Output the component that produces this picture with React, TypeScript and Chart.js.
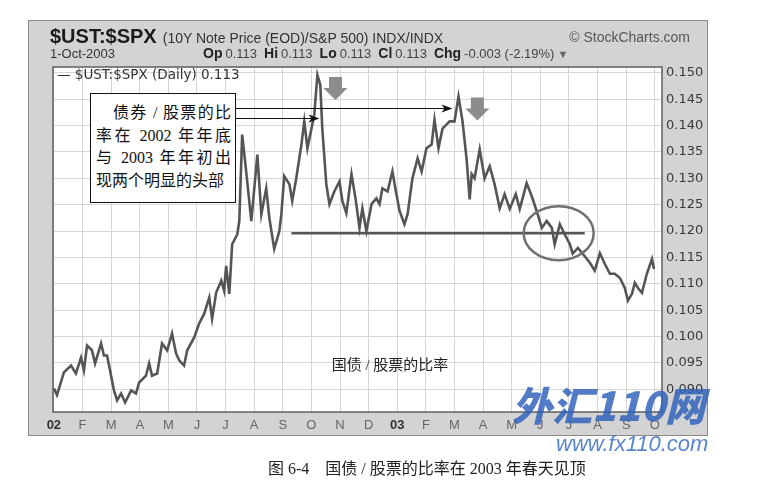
import React, { useEffect, useRef } from "react";
import Chart from "chart.js/auto";

// ---- data ----
const monthLabels = ["02", "F", "M", "A", "M", "J", "J", "A", "S", "O", "N", "D", "03", "F", "M", "A", "M", "J", "J", "A", "S", "O"];

// position in months since 1-Jan-2002
const monthPos = [
  0.00, 0.11, 0.35, 0.60, 0.77, 0.95, 1.05, 1.16, 1.33, 1.44,
  1.65, 1.75, 1.86, 2.10, 2.21, 2.35, 2.49, 2.70, 2.87, 2.98,
  3.22, 3.33, 3.43, 3.61, 3.78, 3.96, 4.13, 4.27, 4.38, 4.55,
  4.66, 4.90, 5.08, 5.25, 5.43, 5.53, 5.67, 5.85, 5.95, 6.02,
  6.13, 6.23, 6.41, 6.48, 6.58, 6.72, 6.90, 7.11, 7.25, 7.42,
  7.53, 7.70, 7.88, 7.95, 8.05, 8.23, 8.33, 8.47, 8.65, 8.75,
  8.86, 9.00, 9.10, 9.21, 9.31, 9.38, 9.52, 9.63, 9.80, 9.98,
  10.08, 10.22, 10.40, 10.54, 10.68, 10.78, 10.92, 11.10, 11.27, 11.38,
  11.48, 11.66, 11.83, 11.97, 12.08, 12.25, 12.36, 12.53, 12.71, 12.85,
  13.02, 13.20, 13.30, 13.44, 13.58, 13.83, 14.00, 14.14, 14.28, 14.42,
  14.53, 14.60, 14.70, 14.88, 15.05, 15.23, 15.40, 15.58, 15.75, 15.93,
  16.14, 16.28, 16.52, 16.70, 16.87, 17.05, 17.22, 17.40, 17.50, 17.68,
  17.85, 18.03, 18.13, 18.31, 18.48, 18.73, 18.90, 19.08, 19.25, 19.43,
  19.60, 19.78, 19.95, 20.06, 20.20, 20.30, 20.41, 20.55, 20.72, 20.90,
  20.97,
];

// $UST:$SPX ratio
const ratio = [
  0.0902, 0.0889, 0.0932, 0.0945, 0.0930, 0.0960, 0.0936, 0.0983, 0.0974, 0.0949,
  0.0987, 0.0964, 0.0964, 0.0898, 0.0879, 0.0892, 0.0875, 0.0898, 0.0892, 0.0913,
  0.0926, 0.0949, 0.0926, 0.0930, 0.0987, 0.0974, 0.1006, 0.0968, 0.0955, 0.0945,
  0.0974, 0.0998, 0.1025, 0.1043, 0.1074, 0.1034, 0.1083, 0.1106, 0.1087, 0.1134,
  0.1081, 0.1175, 0.1194, 0.1219, 0.1383, 0.1313, 0.1219, 0.1345, 0.1232, 0.1281,
  0.1225, 0.1166, 0.1200, 0.1232, 0.1304, 0.1289, 0.1257, 0.1300, 0.1364, 0.1408,
  0.1357, 0.1394, 0.1421, 0.1496, 0.1477, 0.1394, 0.1289, 0.1251, 0.1275, 0.1294,
  0.1257, 0.1234, 0.1308, 0.1262, 0.1206, 0.1243, 0.1200, 0.1251, 0.1262, 0.1251,
  0.1281, 0.1275, 0.1313, 0.1270, 0.1238, 0.1213, 0.1232, 0.1300, 0.1338, 0.1313,
  0.1357, 0.1364, 0.1411, 0.1357, 0.1394, 0.1408, 0.1408, 0.1455, 0.1408, 0.1338,
  0.1260, 0.1308, 0.1300, 0.1355, 0.1300, 0.1323, 0.1289, 0.1243, 0.1270, 0.1242,
  0.1270, 0.1242, 0.1291, 0.1266, 0.1238, 0.1206, 0.1219, 0.1206, 0.1175, 0.1213,
  0.1194, 0.1175, 0.1157, 0.1168, 0.1157, 0.1140, 0.1125, 0.1158, 0.1138, 0.1119,
  0.1119, 0.1111, 0.1092, 0.1068, 0.1081, 0.1102, 0.1092, 0.1083, 0.1119, 0.1147,
  0.1128,
];

// support line (value, start month, end month)
const supportLevel = [0.1196];
const supportSpan = [8.3, 18.55];
// circled breakdown (month, value)
const circleCenter = [17.64, 0.1196];
// grey "top" arrows (month, value of arrow top)
const topArrowMonths = [9.84, 14.8];
const topArrowValues = [0.1492, 0.1453];
// call-out arrow tips (month, value)
const calloutMonths = [13.93, 9.28];
const calloutValues = [0.1434, 0.1415];

const yTickMin = 0.0857;
const yTickMax = 0.1511;

// ---- layout (pixels) ----
const W = 760;
const H = 502;
const FRAME = { left: 28, top: 20, right: 708, bottom: 436 };
const PLOT = { left: 53, top: 67, right: 662, bottom: 412 };
const Y_AXIS_W = 46;
const X_AXIS_H = 24;
const BOX = { left: 90, top: 93, width: 146, height: 110 };

const annotPlugin = {
  id: "annot",
  beforeDraw(chart: any) {
    const { ctx, chartArea: a } = chart;
    ctx.save();
    ctx.fillStyle = "#d3d3d3";
    ctx.fillRect(FRAME.left, FRAME.top, FRAME.right - FRAME.left, FRAME.bottom - FRAME.top);
    ctx.strokeStyle = "#8a8a8a";
    ctx.lineWidth = 1;
    ctx.strokeRect(FRAME.left + 0.5, FRAME.top + 0.5, FRAME.right - FRAME.left - 1, FRAME.bottom - FRAME.top - 1);
    ctx.fillStyle = "#ffffff";
    ctx.fillRect(a.left, a.top, a.right - a.left, a.bottom - a.top);
    ctx.restore();
  },
  afterDatasetsDraw(chart: any) {
    const { ctx, chartArea: a } = chart;
    const xs = chart.scales.x;
    const ys = chart.scales.y;
    ctx.save();

    // ellipse around the breakdown
    const cx = xs.getPixelForValue(circleCenter[0]);
    const cy = ys.getPixelForValue(circleCenter[1]);
    ctx.beginPath();
    ctx.ellipse(cx, cy, 35, 27, 0, 0, Math.PI * 2);
    ctx.strokeStyle = "#707070";
    ctx.lineWidth = 2.5;
    ctx.stroke();

    // grey block arrows pointing down
    ctx.fillStyle = "#8c8c8c";
    topArrowMonths.forEach((m, i) => {
      const x = xs.getPixelForValue(m);
      const y = ys.getPixelForValue(topArrowValues[i]);
      ctx.beginPath();
      ctx.moveTo(x - 6.5, y);
      ctx.lineTo(x + 6.5, y);
      ctx.lineTo(x + 6.5, y + 11);
      ctx.lineTo(x + 12, y + 11);
      ctx.lineTo(x, y + 23);
      ctx.lineTo(x - 12, y + 11);
      ctx.lineTo(x - 6.5, y + 11);
      ctx.closePath();
      ctx.fill();
    });

    // call-out arrows from the text box
    ctx.strokeStyle = "#111";
    ctx.fillStyle = "#111";
    ctx.lineWidth = 1.1;
    calloutMonths.forEach((m, i) => {
      const tx = xs.getPixelForValue(m);
      const ty = Math.round(ys.getPixelForValue(calloutValues[i])) + 0.5;
      ctx.beginPath();
      ctx.moveTo(BOX.left + BOX.width, ty);
      ctx.lineTo(tx - 2, ty);
      ctx.stroke();
      ctx.beginPath();
      ctx.moveTo(tx, ty);
      ctx.lineTo(tx - 11, ty - 4);
      ctx.lineTo(tx - 8, ty);
      ctx.lineTo(tx - 11, ty + 4);
      ctx.closePath();
      ctx.fill();
    });

    // plot border
    ctx.strokeStyle = "#5f5f5f";
    ctx.lineWidth = 1.5;
    ctx.strokeRect(a.left, a.top, a.right - a.left, a.bottom - a.top);
    ctx.restore();
  },
};

export default function App() {
  const canvasRef = useRef<HTMLCanvasElement | null>(null);

  useEffect(() => {
    if (!canvasRef.current) return;
    const chart = new Chart(canvasRef.current, {
      type: "line",
      data: {
        datasets: [
          {
            label: "$UST:$SPX",
            data: monthPos.map((x, i) => ({ x, y: ratio[i] })),
            borderColor: "#555555",
            borderWidth: 2.6,
            pointRadius: 0,
            tension: 0,
            fill: false,
          },
          {
            label: "support",
            data: supportSpan.map((x) => ({ x, y: supportLevel[0] })),
            borderColor: "#555555",
            borderWidth: 2.5,
            pointRadius: 0,
            fill: false,
          },
        ],
      },
      options: {
        animation: false,
        responsive: false,
        devicePixelRatio: 1,
        events: [],
        layout: {
          padding: {
            left: PLOT.left,
            top: PLOT.top,
            right: W - PLOT.right - Y_AXIS_W,
            bottom: H - PLOT.bottom - X_AXIS_H,
          },
        },
        plugins: { legend: { display: false }, tooltip: { enabled: false } },
        scales: {
          x: {
            type: "linear",
            min: -0.03,
            max: 21.25,
            afterFit: (s: any) => { s.height = X_AXIS_H; },
            grid: { color: "#d6d6d6", lineWidth: 1, drawTicks: false },
            border: { display: false },
            ticks: {
              stepSize: 1,
              includeBounds: false,
              autoSkip: false,
              maxRotation: 0,
              minRotation: 0,
              padding: 6,
              maxTicksLimit: 100,
              callback: (v: any) => monthLabels[Math.round(Number(v))] ?? "",
              color: (c: any) => (c.tick && Math.round(c.tick.value) % 12 === 0 ? "#333" : "#666"),
              font: (c: any) => ({
                family: "'Liberation Sans', Arial, sans-serif",
                size: 13,
                weight: c.tick && Math.round(c.tick.value) % 12 === 0 ? "bold" : "normal",
              }),
            },
          },
          y: {
            position: "right",
            min: yTickMin,
            max: yTickMax,
            afterFit: (s: any) => { s.width = Y_AXIS_W; },
            grid: { color: "#d6d6d6", lineWidth: 1, drawTicks: false },
            border: { display: false },
            ticks: {
              stepSize: 0.005,
              includeBounds: false,
              maxTicksLimit: 100,
              padding: 4,
              crossAlign: "near",
              color: "#3a3a3a",
              font: { family: "'DejaVu Sans', sans-serif", size: 13 },
              callback: (v: any) => Number(v).toFixed(3),
            },
          },
        },
      },
      plugins: [annotPlugin],
    } as any);
    return () => chart.destroy();
  }, []);

  const sans = "'Liberation Sans', Arial, sans-serif";
  const serifCJK = "'Liberation Serif', 'Noto Sans CJK SC', serif";

  const lbl: React.CSSProperties = { fontWeight: "bold", fontSize: 14, color: "#222" };
  const num: React.CSSProperties = { fontSize: 13, color: "#444", marginLeft: 3, marginRight: 7 };

  return (
    <div style={{ position: "absolute", left: 0, top: 0, width: W, height: H, background: "#fff", overflow: "hidden" }}>
      <canvas ref={canvasRef} width={W} height={H} style={{ position: "absolute", left: 0, top: 0, width: W, height: H }} />

      {/* header row 1 */}
      <div style={{ position: "absolute", left: 50, top: 25, fontFamily: sans, whiteSpace: "nowrap", display: "flex", alignItems: "baseline" }}>
        <span style={{ fontSize: 20, fontWeight: "bold", color: "#1a1a1a", lineHeight: "22px" }}>$UST:$SPX</span>
        <span style={{ fontSize: 14, color: "#333", marginLeft: 6 }}>(10Y Note Price (EOD)/S&amp;P 500) INDX/INDX</span>
      </div>
      <div style={{ position: "absolute", right: W - 690, top: 29, fontFamily: sans, fontSize: 14, color: "#555", whiteSpace: "nowrap" }}>
        © StockCharts.com
      </div>

      {/* header row 2 */}
      <div style={{ position: "absolute", left: 50, top: 46, fontFamily: sans, fontSize: 13, color: "#333", whiteSpace: "nowrap" }}>
        1-Oct-2003
      </div>
      <div style={{ position: "absolute", left: 203, top: 45, fontFamily: sans, whiteSpace: "nowrap", display: "flex", alignItems: "baseline" }}>
        <span style={lbl}>Op</span><span style={num}>0.113</span>
        <span style={lbl}>Hi</span><span style={num}>0.113</span>
        <span style={lbl}>Lo</span><span style={num}>0.113</span>
        <span style={lbl}>Cl</span><span style={num}>0.113</span>
        <span style={lbl}>Chg</span><span style={{ ...num, marginRight: 3 }}>-0.003 (-2.19%)</span>
        <span style={{ fontSize: 11, color: "#666" }}>▼</span>
      </div>

      {/* legend inside plot */}
      <div style={{ position: "absolute", left: 57, top: 66, fontFamily: "'DejaVu Sans', sans-serif", fontSize: 13.5, color: "#333", whiteSpace: "nowrap", lineHeight: "17px" }}>
        — $UST:$SPX (Daily) 0.113
      </div>

      {/* call-out box */}
      <div
        style={{
          position: "absolute",
          left: BOX.left,
          top: BOX.top,
          width: BOX.width,
          height: BOX.height,
          boxSizing: "border-box",
          border: "1.5px solid #111",
          background: "#fff",
          padding: "8px 4px 0 5px",
          fontFamily: serifCJK,
          fontSize: 16,
          lineHeight: "22.5px",
          color: "#111",
        }}
      >
        <div style={{ textAlign: "justify", textAlignLast: "justify", paddingLeft: 17 }}>债券 / 股票的比</div>
        <div style={{ textAlign: "justify", textAlignLast: "justify" }}>率在 2002 年年底</div>
        <div style={{ textAlign: "justify", textAlignLast: "justify" }}>与 2003 年年初出</div>
        <div style={{ textAlign: "left", whiteSpace: "nowrap" }}>现两个明显的头部</div>
      </div>

      {/* in-chart label */}
      <div style={{ position: "absolute", left: 300, width: 180, top: 353, textAlign: "center", fontFamily: serifCJK, fontSize: 15, color: "#222" }}>
        国债 / 股票的比率
      </div>

      {/* watermark */}
      <div style={{ position: "absolute", left: 512, top: 380, fontFamily: "'Noto Sans CJK SC', sans-serif", fontSize: 40, fontWeight: 900, fontStyle: "italic", color: "rgba(45,95,185,0.82)", whiteSpace: "nowrap", lineHeight: "48px" }}>
        外汇110网
      </div>
      <div style={{ position: "absolute", left: 556, top: 431, fontFamily: sans, fontSize: 22, fontStyle: "italic", color: "rgba(60,110,200,0.85)", whiteSpace: "nowrap", lineHeight: "26px" }}>
        www.fx110.com
      </div>

      {/* caption */}
      <div style={{ position: "absolute", left: 268, top: 455, fontFamily: serifCJK, fontSize: 16, color: "#222", whiteSpace: "nowrap" }}>
        图 6-4<span style={{ display: "inline-block", width: 16 }} />国债 / 股票的比率在 2003 年春天见顶
      </div>
    </div>
  );
}
